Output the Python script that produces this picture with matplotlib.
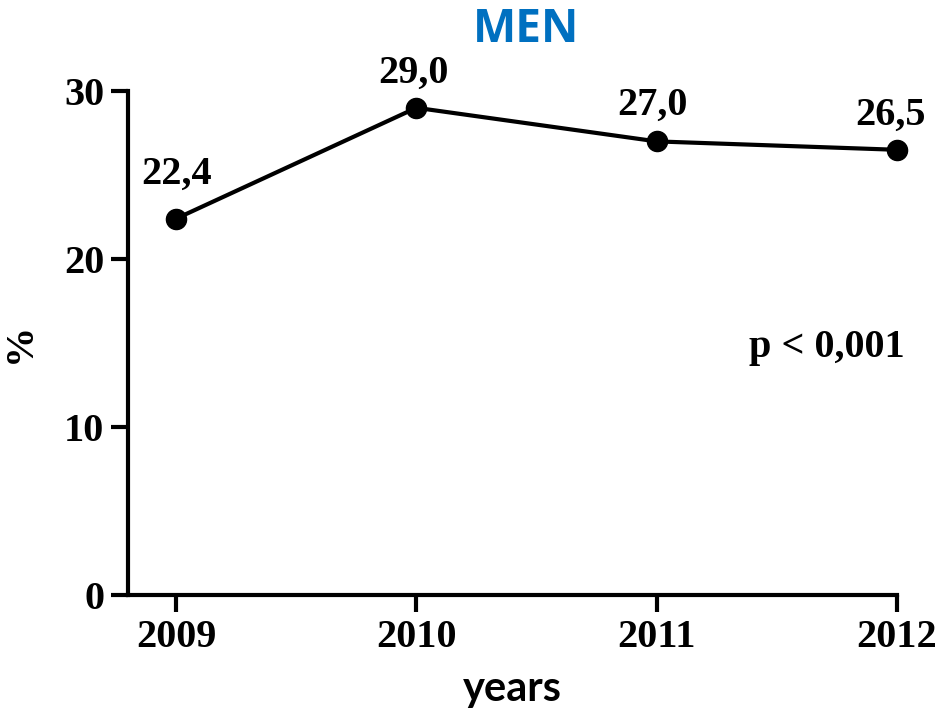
import matplotlib
matplotlib.use("Agg")
import matplotlib.pyplot as plt

years = [2009, 2010, 2011, 2012]
values = [22.4, 29.0, 27.0, 26.5]
labels = ["22,4", "29,0", "27,0", "26,5"]
yticks = [0, 10, 20, 30]
title = "MEN"
p_text = "p < 0,001"

SERIF = "Liberation Serif"
FS = 29
# label offsets in points (dx, dy) from marker centre to text baseline
label_offsets = [(0, 25), (-2, 18), (-3, 19), (-5, 18)]

fig = plt.figure(figsize=(9.42, 7.16), dpi=100)
ax = fig.add_axes([128/942, 1-595/716, (897-128)/942, (595-91)/716])

ax.plot(years, values, color="black", lw=3, marker="o", ms=14.5, zorder=3, clip_on=False)
for x, y, s, off in zip(years, values, labels, label_offsets):
    ax.annotate(s, (x, y), xytext=off, textcoords="offset points", ha="center", va="baseline",
                fontfamily=SERIF, fontweight="bold", fontsize=FS)

ax.set_xlim(2008.8, 2012)
ax.set_ylim(0, 30)
ax.set_xticks(years)
ax.set_xticklabels([str(y) for y in years])
ax.set_yticks(yticks)
for sp in ["top", "right"]:
    ax.spines[sp].set_visible(False)
for sp in ["left", "bottom"]:
    ax.spines[sp].set_linewidth(3)
ax.tick_params(axis="both", length=12, width=3, pad=5)
for lab in ax.get_xticklabels() + ax.get_yticklabels():
    lab.set_fontfamily(SERIF)
    lab.set_fontweight("bold")
    lab.set_fontsize(FS)

ax.set_ylabel("%", fontfamily=SERIF, fontweight="bold", fontsize=FS, labelpad=18)
ax.set_xlabel("years", fontfamily="Lato", fontweight="bold", fontsize=30, labelpad=10)
ax.text((905-128)/769, (595-357)/504, p_text, transform=ax.transAxes, ha="right", va="baseline",
        fontfamily=SERIF, fontweight="bold", fontsize=FS)
fig.text(526/942, 1-42/716, title, ha="center", va="baseline", color="#0070C0",
         fontfamily="Open Sans", fontweight="bold", fontsize=33)

fig.savefig("out.png", dpi=100)
